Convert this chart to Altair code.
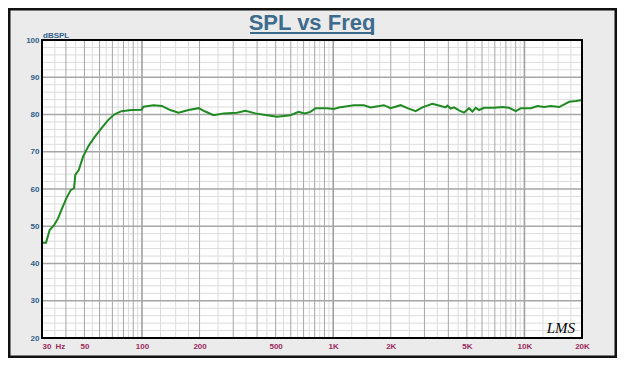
import altair as alt
import pandas as pd

# ---- data ----
freq = [30, 31.5, 32.9, 34.7, 36.4, 38.2, 40.2, 42.4, 44.1, 44.8, 46.7, 49.2, 52.3, 56.6,
        61.3, 66.5, 71.5, 78.1, 88.1, 99.4, 101.8, 114.8, 127.1, 140.5, 155.3, 175.2,
        197.7, 214.3, 236.8, 267.2, 314, 347, 391.5, 451, 509, 597, 660, 707, 760, 808,
        930, 1007, 1070, 1282, 1446, 1568, 1841, 1996, 2251, 2442, 2698, 2925, 3300,
        3648, 3873, 3953, 4115, 4281, 4460, 4547, 4830, 5133, 5346, 5562, 5790, 6150,
        6939, 7677, 8313, 9015, 9573, 10800, 11710, 12680, 13750, 15200, 17140, 18590,
        20000]
spl = [45.6, 45.6, 49.0, 50.3, 52.1, 54.8, 57.5, 59.7, 60.2, 63.8, 65.1, 68.7, 71.4, 74.0,
       76.3, 78.5, 80.0, 80.9, 81.2, 81.3, 82.1, 82.5, 82.3, 81.2, 80.5, 81.2,
       81.7, 80.8, 79.8, 80.3, 80.5, 81.0, 80.3, 79.8, 79.4, 79.8, 80.7, 80.3, 80.7, 81.7,
       81.7, 81.5, 81.9, 82.5, 82.5, 81.9, 82.5, 81.7, 82.5, 81.7, 80.9, 81.9, 82.9,
       82.3, 81.9, 82.4, 81.6, 81.9, 81.4, 81.1, 80.5, 81.7, 80.8, 81.8, 81.2, 81.8,
       81.8, 82.0, 81.8, 80.9, 81.7, 81.7, 82.3, 82.0, 82.3, 82.0, 83.4, 83.6,
       83.9]

y_ticks = [20, 30, 40, 50, 60, 70, 80, 90, 100]
y_minor = [22, 24, 26, 28, 32, 34, 36, 38, 42, 44, 46, 48, 52, 54, 56, 58, 62, 64, 66, 68,
           72, 74, 76, 78, 82, 84, 86, 88, 92, 94, 96, 98]
y_major = [30, 40, 50, 60, 70, 80, 90]

x_tick_values = [30, 50, 100, 200, 500, 1000, 2000, 5000, 10000, 20000]
x_tick_labels = ["30\u2002Hz", "50", "100", "200", "500", "1K", "2K", "5K", "10K", "20K"]

x_minor = [35, 45, 55, 65, 75, 85, 95, 125, 150, 175, 250, 350, 450, 550, 650, 750, 850,
           950, 1250, 1500, 1750, 2500, 3500, 4500, 5500, 6500, 7500, 8500, 9500,
           12500, 15000, 17500]
x_major = [40, 50, 60, 70, 80, 90, 200, 300, 400, 500, 600, 700, 800, 900,
           2000, 3000, 4000, 5000, 6000, 7000, 8000, 9000]
x_decade = [100, 1000, 10000]

title_text = "SPL vs Freq"
y_unit = "dBSPL"
brand = "LMS"

# ---- layout ----
W, H = 540, 298
PAD = {"left": 34, "top": 32, "right": 35, "bottom": 20}
TITLE_BLUE = "#3d6b8e"
AXIS_BLUE = "#2f5f8c"
AXIS_RED = "#9c2a5c"
FONT = "Liberation Sans"

xs = alt.Scale(type="log", domain=[30, 20000], nice=False)
ys = alt.Scale(domain=[20, 100], nice=False, zero=False)

vals_js = "[" + ",".join(str(v) for v in x_tick_values) + "]"
labs_js = "[" + ",".join("'" + l + "'" for l in x_tick_labels) + "]"

x_axis = alt.Axis(values=x_tick_values, labelExpr=f"{labs_js}[indexof({vals_js}, datum.value)]",
                  title=None, grid=False, ticks=False, domain=False, labelFlush=False,
                  labelOverlap=False, labelColor=AXIS_RED, labelFont=FONT, labelFontSize=8,
                  labelFontWeight="bold", labelPadding=4,
                  labelAlign={"condition": {"test": "datum.value == 30", "value": "left"},
                              "value": "center"})
y_axis = alt.Axis(values=y_ticks, title=None, grid=False, ticks=False, domain=False,
                  labelColor=AXIS_BLUE, labelFont=FONT, labelFontSize=8,
                  labelFontWeight="bold", labelPadding=3, labelOverlap=False)


def X(field):
    return alt.X(field, type="quantitative", scale=xs, axis=x_axis)


def Y(field):
    return alt.Y(field, type="quantitative", scale=ys, axis=y_axis)


one = pd.DataFrame({"t": [0]})

vminor = alt.Chart(pd.DataFrame({"f": x_minor})).mark_rule(color="#dcdcdc", strokeWidth=1).encode(x=X("f"))
hminor = alt.Chart(pd.DataFrame({"v": y_minor})).mark_rule(color="#dcdcdc", strokeWidth=1).encode(y=Y("v"))
vmajor = alt.Chart(pd.DataFrame({"f": x_major})).mark_rule(color="#a6a6a6", strokeWidth=1).encode(x=X("f"))
vdec = alt.Chart(pd.DataFrame({"f": x_decade})).mark_rule(color="#a0a0a0", strokeWidth=1.6).encode(x=X("f"))
hmajor = alt.Chart(pd.DataFrame({"v": y_major})).mark_rule(color="#a6a6a6", strokeWidth=1.3).encode(y=Y("v"))

curve = alt.Chart(pd.DataFrame({"f": freq, "db": spl})).mark_line(
    color="#1f8a22", strokeWidth=2, interpolate="linear").encode(x=X("f"), y=Y("db"))

border = alt.Chart(one).mark_rect(fillOpacity=0, stroke="black", strokeWidth=2).encode(
    x=alt.value(0), x2=alt.value(W), y=alt.value(0), y2=alt.value(H))

frame = alt.Chart(one).mark_rect(fillOpacity=0, stroke="#111111", strokeWidth=5).encode(
    x=alt.value(-PAD["left"]), x2=alt.value(W + PAD["right"]),
    y=alt.value(-PAD["top"]), y2=alt.value(H + PAD["bottom"]))

title = alt.Chart(pd.DataFrame({"t": [title_text]})).mark_text(
    font=FONT, fontSize=22, fontWeight="bold", color=TITLE_BLUE, align="center",
    baseline="alphabetic").encode(x=alt.value(270), y=alt.value(-10), text="t:N")

underline = alt.Chart(one).mark_rule(color=TITLE_BLUE, strokeWidth=2).encode(
    x=alt.value(208), x2=alt.value(332), y=alt.value(-7))

unit = alt.Chart(pd.DataFrame({"t": [y_unit]})).mark_text(
    font=FONT, fontSize=8, fontWeight="bold", color=AXIS_BLUE, align="left",
    baseline="alphabetic").encode(x=alt.value(1), y=alt.value(-2), text="t:N")

sign = alt.Chart(pd.DataFrame({"t": [brand]})).mark_text(
    font="Liberation Serif", fontSize=15, fontStyle="italic", color="black", align="right",
    baseline="alphabetic").encode(x=alt.value(533), y=alt.value(293), text="t:N")

chart = alt.layer(vminor, hminor, vmajor, vdec, hmajor, curve, border, sign, title,
                  underline, unit, frame).properties(
    width=W, height=H, padding=PAD, autosize=alt.AutoSizeParams(type="none"),
    background="#ebebeb"
).configure_view(fill="white", stroke=None)

chart.save("out.html", embed_options={"renderer": "svg", "actions": False})
